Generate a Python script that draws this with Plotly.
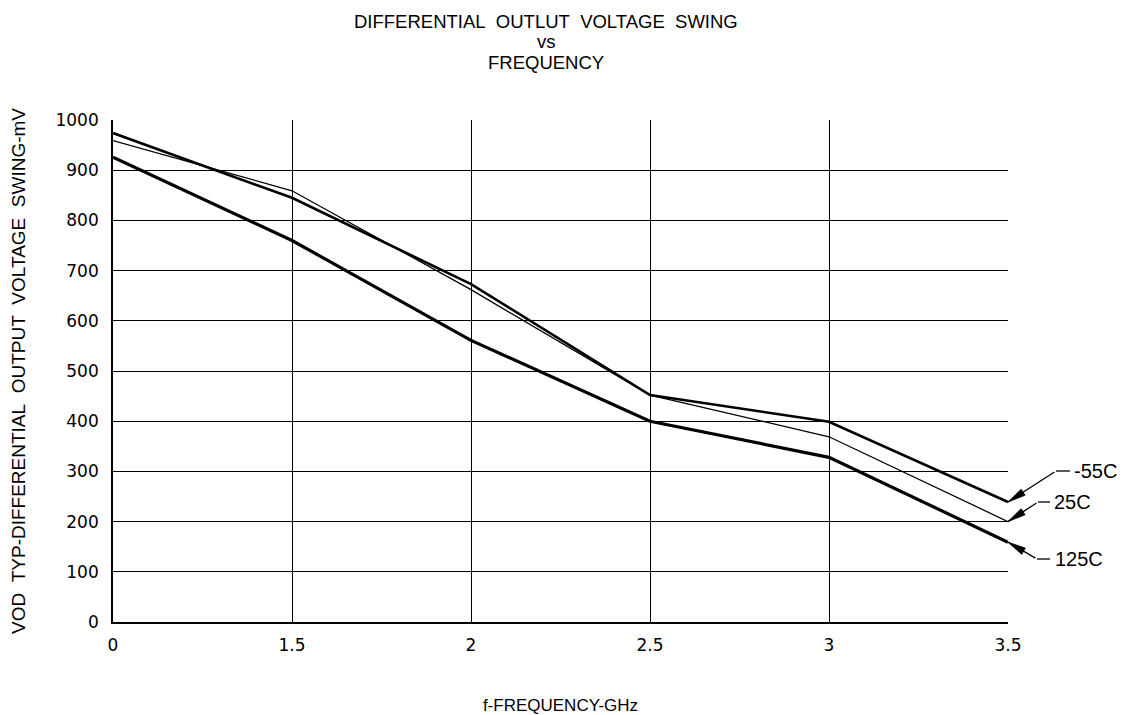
import math
import plotly.graph_objects as go

freq_labels = ["0", "1.5", "2", "2.5", "3", "3.5"]
vod_m55 = [974, 845, 673, 452, 399, 239]
vod_25 = [959, 859, 662, 452, 369, 200]
vod_125 = [926, 760, 561, 400, 328, 159]
y_ticks = [0, 100, 200, 300, 400, 500, 600, 700, 800, 900, 1000]
y_range = [0, 1000]

FONT = "Liberation Sans, Arial, sans-serif"
NUMFONT = "DejaVu Sans, Liberation Sans, sans-serif"
NB = "\u00a0"

# page offset (default body margin) compensation
OFF = 8
W, H = 1128 - OFF, 715 - OFF
PL, PT, PR, PBOT = 113, 120, 1008, 622      # plot box in screen pixels
PW, PH = PR - PL, PBOT - PT
L, T = PL - OFF, PT - OFF
R, B = W - L - PW, H - T - PH


def px(x):
    return (x - PL) / PW


def py(y):
    return (PBOT - y) / PH


fig = go.Figure()
fig.add_trace(go.Scatter(x=freq_labels, y=vod_125, mode="lines", name="125C",
                         line=dict(color="black", width=3.2)))
fig.add_trace(go.Scatter(x=freq_labels, y=vod_25, mode="lines", name="25C",
                         line=dict(color="black", width=1.3)))
fig.add_trace(go.Scatter(x=freq_labels, y=vod_m55, mode="lines", name="-55C",
                         line=dict(color="black", width=2.6)))

annotations = []
for text, yy in [("DIFFERENTIAL" + NB * 2 + "OUTLUT" + NB * 2 + "VOLTAGE" + NB * 2 + "SWING", 22),
                 ("vs", 42), ("FREQUENCY", 62)]:
    annotations.append(dict(text=text, xref="paper", yref="paper", x=px(546), y=py(yy),
                            xanchor="center", yanchor="middle", showarrow=False,
                            font=dict(family=FONT, size=18.5, color="black")))

# (label, end value, leader tail x, leader y, leader end x, text x)
labels = [
    ("-55C", vod_m55[-1], 1056, 471, 1070, 1072),
    ("25C", vod_25[-1], 1038, 502, 1050, 1052),
    ("125C", vod_125[-1], 1037, 559, 1050, 1053),
]
last_idx = len(freq_labels) - 1
shapes = []
HEAD_LEN, HEAD_HALF = 18, 3.6
for name, val, tx, ty, lx, textx in labels:
    frac = (val - y_range[0]) / (y_range[1] - y_range[0])
    tip_x, tip_y = PR, PBOT - frac * PH
    # diagonal leader (arrow shaft) from the curve end to the label leader
    annotations.append(dict(x=last_idx, y=val, xref="x", yref="y", text="",
                            showarrow=True, axref="pixel", ayref="pixel",
                            ax=tx - tip_x, ay=ty - tip_y,
                            arrowhead=0, arrowwidth=1.3,
                            arrowcolor="black", standoff=0, startstandoff=0))
    # long narrow filled arrowhead
    dx, dy = tx - tip_x, ty - tip_y
    d = math.hypot(dx, dy)
    ux, uy = dx / d, dy / d
    nx, ny = -uy, ux
    bx, by = tip_x + HEAD_LEN * ux, tip_y + HEAD_LEN * uy
    pts = [(tip_x, tip_y), (bx + HEAD_HALF * nx, by + HEAD_HALF * ny),
           (bx - HEAD_HALF * nx, by - HEAD_HALF * ny)]
    path = "M " + " L ".join(f"{px(a):.5f},{py(b):.5f}" for a, b in pts) + " Z"
    shapes.append(dict(type="path", xref="paper", yref="paper", path=path,
                       fillcolor="black", line=dict(color="black", width=0.8)))
    # horizontal leader
    shapes.append(dict(type="line", xref="paper", yref="paper", x0=px(tx), x1=px(lx),
                       y0=py(ty), y1=py(ty), line=dict(color="black", width=1.3)))
    annotations.append(dict(text=name, xref="paper", yref="paper", x=px(textx), y=py(ty),
                            xanchor="left", yanchor="middle", showarrow=False,
                            font=dict(family=FONT, size=20, color="black")))

fig.update_layout(
    width=W, height=H,
    margin=dict(l=L, r=R, t=T, b=B, autoexpand=False),
    paper_bgcolor="white", plot_bgcolor="white",
    showlegend=False,
    font=dict(family=FONT, color="black", size=17),
    annotations=annotations,
    shapes=shapes,
    xaxis=dict(type="category", categoryorder="array", categoryarray=freq_labels,
               range=[0, last_idx], automargin=False,
               showgrid=True, gridcolor="black", gridwidth=1.4,
               showline=True, linecolor="black", linewidth=1.7, mirror=False,
               ticks="", ticklabelstandoff=7,
               tickfont=dict(family=NUMFONT, size=17, color="black"),
               title=dict(text="f-FREQUENCY-GHz", standoff=49,
                          font=dict(family=FONT, size=17, color="black")),
               zeroline=False, fixedrange=True),
    yaxis=dict(range=y_range, tickvals=y_ticks, automargin=False,
               showgrid=True, gridcolor="black", gridwidth=1.4,
               showline=True, linecolor="black", linewidth=1.7,
               ticks="", ticklabelstandoff=9,
               tickfont=dict(family=NUMFONT, size=17, color="black"),
               title=dict(text="VOD" + NB * 2 + "TYP-DIFFERENTIAL" + NB * 2 + "OUTPUT" + NB * 2 + "VOLTAGE" + NB * 2 + "SWING-mV",
                          standoff=29, font=dict(family=FONT, size=19, color="black")),
               zeroline=False, fixedrange=True),
)

fig.write_html("out.html")
